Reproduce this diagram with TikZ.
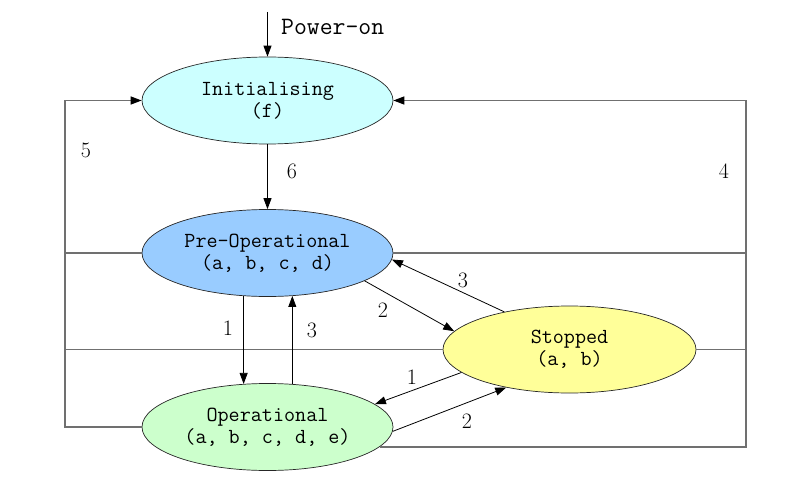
\documentclass[tikz,border=0pt]{standalone}
\usetikzlibrary{shapes.geometric,arrows.meta,calc}
\definecolor{initc}{HTML}{CCFFFF}
\definecolor{prec}{HTML}{99CCFF}
\definecolor{opc}{HTML}{CCFFCC}
\definecolor{stc}{HTML}{FFFF99}
\definecolor{boxc}{HTML}{707070}
\begin{document}
\begin{tikzpicture}[x=1pt,y=-1pt,
  state/.style={ellipse, draw=black!85, line width=0.7pt, minimum width=251pt, minimum height=87pt, inner sep=0pt, align=center, font=\ttfamily\fontsize{21.5}{22}\selectfont},
  arr/.style={-{Triangle[length=11pt,width=8pt,color=black]}, line width=0.8pt, black},
  framearr/.style={-{Triangle[length=11pt,width=8pt,color=black]}, boxc, line width=1.4pt},
  frame/.style={boxc, line width=1.4pt},
  num/.style={font=\fontsize{22}{22}\selectfont, inner sep=0pt}]
\useasboundingbox (0,0) rectangle (805,497);
\node[state, fill=initc] (init) at (267.5,100.5) {Initialising\\(f)};
\node[state, fill=prec] (pre) at (267.5,253) {Pre-Operational\\(a, b, c, d)};
\node[state, fill=opc] (op) at (267.5,427) {Operational\\(a, b, c, d, e)};
\node[state, fill=stc, minimum width=253pt] (st) at (569.5,349.5) {Stopped\\(a, b)};
% frame coordinates
\coordinate (L1) at (65,100.5);
\coordinate (L2) at (65,253);
\coordinate (L3) at (65,349.5);
\coordinate (L4) at (65,427);
\coordinate (R1) at (746,100.5);
\coordinate (R2) at (746,253);
\coordinate (R3) at (746,349.5);
\coordinate (pwr) at (267.5,12);
% left frame (5)
\draw[frame] (op.west) -- (L4) -- (L1);
\draw[framearr] (L1) -- (init.west);
\draw[frame] (pre.west) -- (L2);
\draw[frame] (st.west) -- (L3);
% right frame (4)
\draw[frame] (op.-10.5) -- (op.-10.5 -| R1) -- (R1);
\draw[framearr] (R1) -- (init.east);
\draw[frame] (pre.east) -- (R2);
\draw[frame] (st.east) -- (R3);
% arrows
\draw[arr] (pwr) -- (init.north);
\draw[arr] (init.south) -- (pre.north);
\draw[arr] (pre.-119.8) -- (op.119.8);
\draw[arr] (op.60.2) -- (pre.-60.2);
\draw[arr] (pre.-16.8) -- (st.171.1);
\draw[arr] (st.150.9) -- (pre.-3.2);
\draw[arr] (st.-168.6) -- (op.12.2);
\draw[arr] (op.-2.3) -- (st.211.4);
% labels
\node[anchor=west, inner sep=0pt, font=\ttfamily\fontsize{25}{25}\selectfont] (pwrlbl) at (281,27) {Power-on};
\node[num] (n5) at (86,150) {5};
\node[num] (n6) at (292,171) {6};
\node[num] (n4) at (724,171) {4};
\node[num] (n1a) at (228,328) {1};
\node[num] (n3a) at (312,330) {3};
\node[num] (n2a) at (383,310) {2};
\node[num] (n3b) at (463,280) {3};
\node[num] (n1b) at (412,377) {1};
\node[num] (n2b) at (467,421) {2};
\end{tikzpicture}
\end{document}
